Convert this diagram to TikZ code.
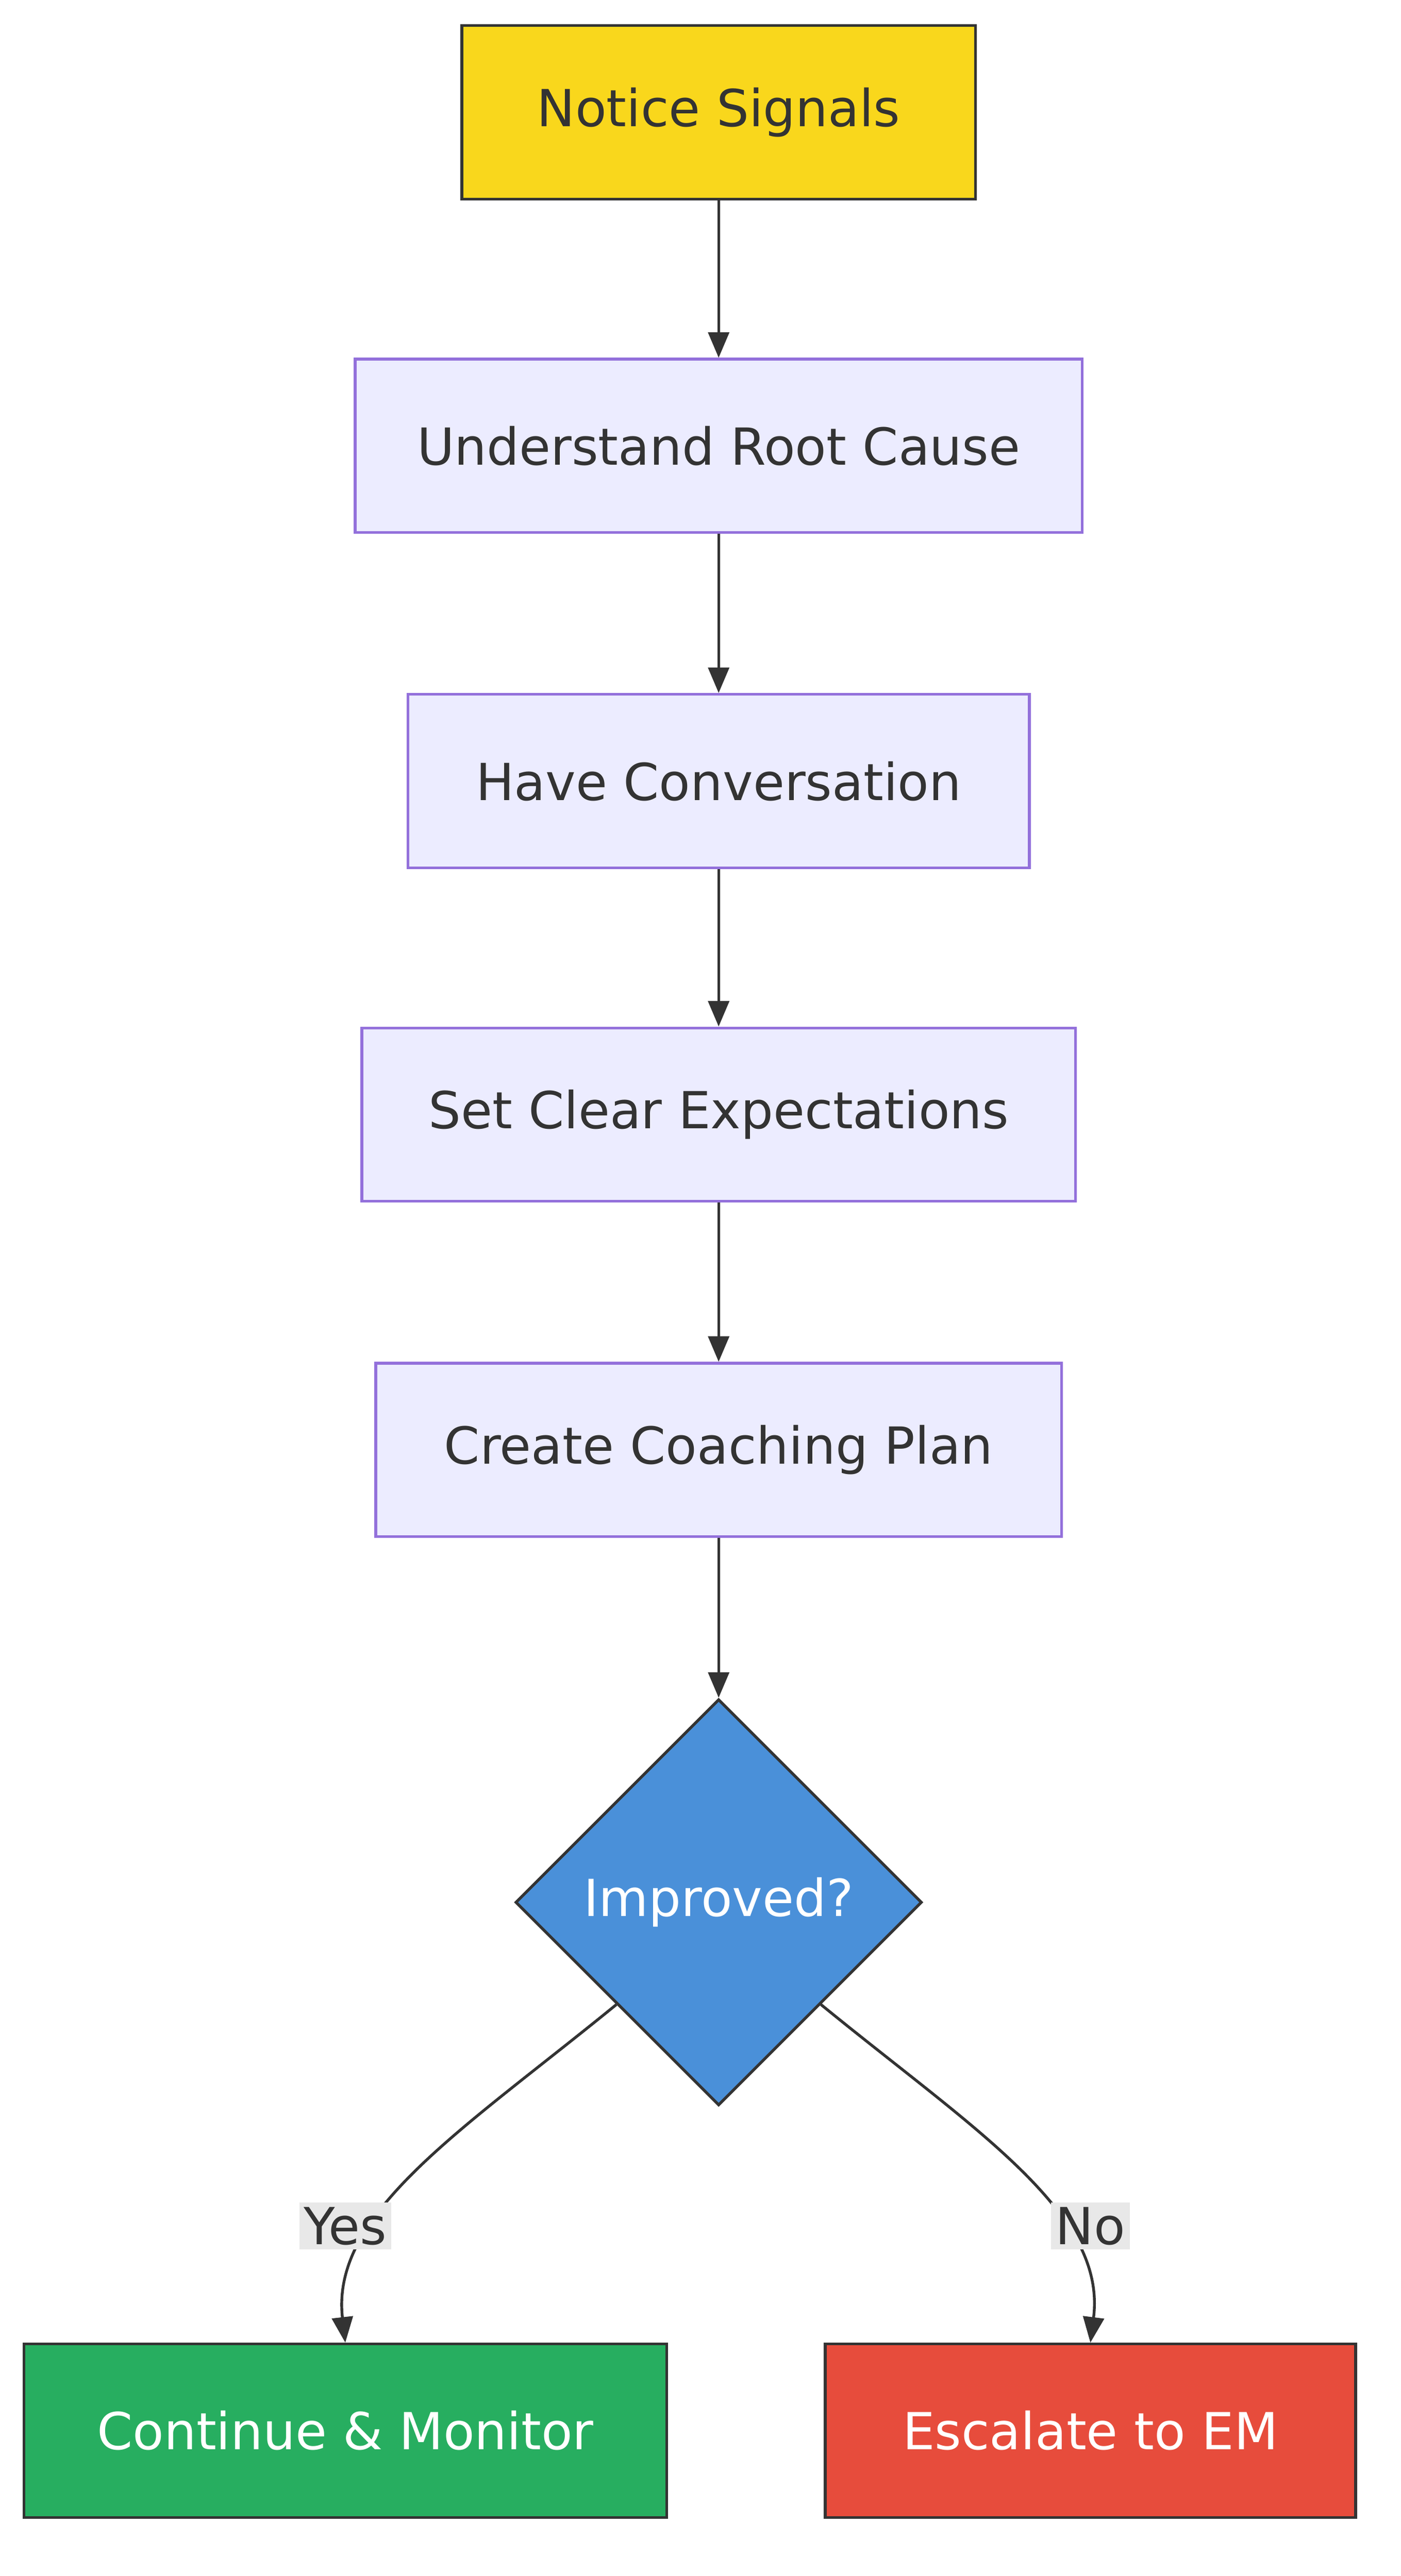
\documentclass[tikz,border=0pt]{standalone}
\usepackage{fontspec}
\setmainfont{DejaVu Sans}
\usetikzlibrary{shapes.geometric,arrows.meta}
\definecolor{startc}{HTML}{F9D71C}
\definecolor{stepc}{HTML}{ECECFF}
\definecolor{stepb}{HTML}{9370DB}
\definecolor{decc}{HTML}{4A90D9}
\definecolor{okc}{HTML}{27AE60}
\definecolor{badc}{HTML}{E74C3C}
\definecolor{inkc}{HTML}{333333}
\definecolor{lblc}{HTML}{E8E8E8}
\tikzset{
  box/.style={draw, line width=1.2pt, minimum height=105*0.025cm, inner sep=0pt,
    font=\fontsize{22}{26}\selectfont, text=inkc},
  stepbox/.style={box, fill=stepc, draw=stepb},
  flow/.style={draw=inkc, line width=1.2pt, -{Triangle[length=11pt,width=9pt]}},
  lbl/.style={fill=lblc, inner sep=2pt, font=\fontsize{22}{26}\selectfont, text=inkc}
}
\begin{document}
\begin{tikzpicture}[x=0.025cm,y=-0.025cm]
    \useasboundingbox (0,0) rectangle (848,1560);

    \node[box, fill=startc, draw=inkc, minimum width=311*0.025cm] (notice) at (435,68) {Notice Signals};
    \node[stepbox, minimum width=440*0.025cm] (root) at (435,270) {Understand Root Cause};
    \node[stepbox, minimum width=376*0.025cm] (talk) at (435,473) {Have Conversation};
    \node[stepbox, minimum width=432*0.025cm] (expect) at (435,675) {Set Clear Expectations};
    \node[stepbox, minimum width=415*0.025cm] (plan) at (435,878) {Create Coaching Plan};
    \node[diamond, draw=inkc, line width=1.2pt, fill=decc, minimum width=246*0.025cm,
      minimum height=246*0.025cm, inner sep=0pt, text=white,
      font=\fontsize{22}{26}\selectfont] (improved) at (435,1152) {Improved?};
    \node[box, fill=okc, draw=inkc, text=white, minimum width=389*0.025cm] (cont) at (209,1472) {Continue \& Monitor};
    \node[box, fill=badc, draw=inkc, text=white, minimum width=321*0.025cm] (esc) at (660,1472) {Escalate to EM};

    \draw[flow] (notice) -- (root);
    \draw[flow] (root) -- (talk);
    \draw[flow] (talk) -- (expect);
    \draw[flow] (expect) -- (plan);
    \draw[flow] (plan) -- (improved);

    \draw[flow] (improved.south west)
      .. controls (280,1290) and (200,1340) .. (cont.north);
    \draw[flow] (improved.south east)
      .. controls (590,1290) and (670,1340) .. (esc.north);
    \node[lbl] (yes) at (209,1348) {Yes};
    \node[lbl] (no) at (660,1348) {No};
\end{tikzpicture}
\end{document}
